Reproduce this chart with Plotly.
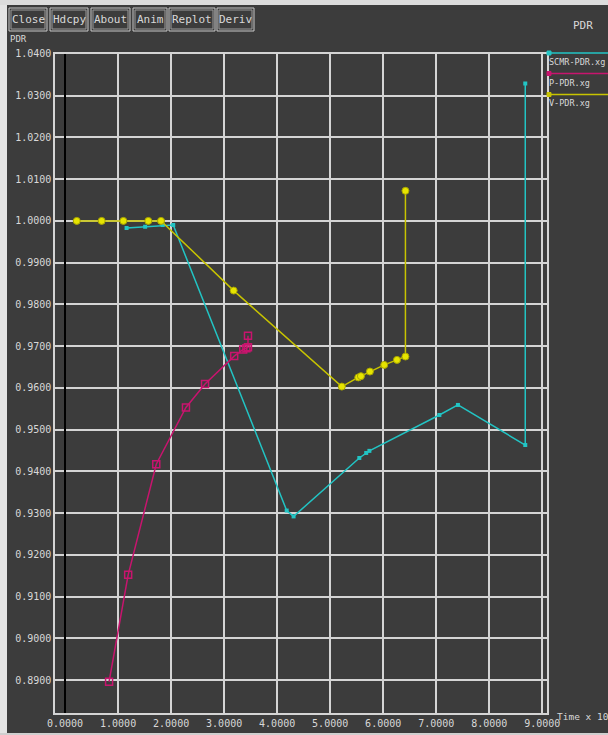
import plotly.graph_objects as go

# PDR versus time for three runs
scmr_x = [1.16, 1.51, 1.84, 2.04, 4.18, 4.31, 5.55, 5.68, 5.74, 7.06, 7.41, 8.68, 8.68]
scmr_y = [0.9983, 0.9986, 0.9990, 0.9990, 0.9306, 0.9292, 0.9432, 0.9444, 0.9449,
          0.9535, 0.9559, 0.9463, 1.0329]

p_x = [0.83, 1.19, 1.72, 2.28, 2.64, 3.19, 3.36, 3.42, 3.45, 3.45]
p_y = [0.8896, 0.9152, 0.9417, 0.9553, 0.9609, 0.9676, 0.9692, 0.9695, 0.9697, 0.9725]

v_x = [0.22, 0.69, 1.10, 1.57, 1.81, 3.18, 5.22, 5.53, 5.58, 5.75, 6.02, 6.26, 6.42, 6.42]
v_y = [1.0000, 1.0000, 1.0000, 1.0000, 1.0000, 0.9833, 0.9603, 0.9625, 0.9628, 0.9639,
       0.9655, 0.9667, 0.9675, 1.0072]

series_names = ["SCMR-PDR.xg", "P-PDR.xg", "V-PDR.xg"]
buttons = ["Close", "Hdcpy", "About", "Anim", "Replot", "Deriv"]

W, H = 608, 735
BG = "#3c3c3c"
FG = "#d8d8d8"
GRID = "#d4d4d4"
CYAN = "#22c4c4"
MAGENTA = "#c8146e"
YELLOW = "#c8c400"
MONO = "DejaVu Sans Mono, Liberation Mono, monospace"


def px(x):
    return x / W


def py(y):
    return 1 - y / H


fig = go.Figure()
fig.add_trace(go.Scatter(
    x=scmr_x, y=scmr_y, mode="lines+markers", name=series_names[0],
    line=dict(color=CYAN, width=1.5),
    marker=dict(symbol="square", size=4, color=CYAN),
))
fig.add_trace(go.Scatter(
    x=p_x, y=p_y, mode="lines+markers", name=series_names[1],
    line=dict(color=MAGENTA, width=1.5),
    marker=dict(symbol="square-open", size=7, color=MAGENTA, line=dict(width=1.5)),
))
fig.add_trace(go.Scatter(
    x=v_x, y=v_y, mode="lines+markers", name=series_names[2],
    line=dict(color=YELLOW, width=1.5),
    marker=dict(symbol="circle", size=7, color="#e6e400",
                line=dict(color="#a8a400", width=1)),
))

shapes = []
annotations = []

# window chrome: light strips on the edges
shapes.append(dict(type="rect", xref="paper", yref="paper", x0=0, x1=1, y0=py(5), y1=1,
                   fillcolor="#dcdcdc", line=dict(width=0), layer="below"))
shapes.append(dict(type="rect", xref="paper", yref="paper", x0=0, x1=px(7), y0=0, y1=py(5),
                   fillcolor="#e4e4e4", line=dict(width=0), layer="below"))
shapes.append(dict(type="rect", xref="paper", yref="paper", x0=0, x1=1, y0=0, y1=py(733),
                   fillcolor="#cfcfcf", line=dict(width=0), layer="below"))

# button row
btn_edges = [(9, 47), (50, 88), (91, 130), (133, 167), (169, 215), (217, 254)]
for label, (x0, x1) in zip(buttons, btn_edges):
    shapes.append(dict(type="rect", xref="paper", yref="paper",
                       x0=px(x0), x1=px(x1), y0=py(31), y1=py(8),
                       line=dict(color="#c8c8c8", width=1), fillcolor=BG))
    shapes.append(dict(type="rect", xref="paper", yref="paper",
                       x0=px(x0 + 2), x1=px(x1 - 2), y0=py(29), y1=py(10),
                       line=dict(color="#9a9a9a", width=1)))
    annotations.append(dict(text=label, xref="paper", yref="paper",
                            x=px((x0 + x1) / 2), y=py(19.5), showarrow=False,
                            xanchor="center", yanchor="middle",
                            font=dict(family=MONO, size=11, color=FG)))

# titles
annotations.append(dict(text="PDR", xref="paper", yref="paper", x=px(583), y=py(25),
                        showarrow=False, xanchor="center", yanchor="middle",
                        font=dict(family=MONO, size=11, color=FG)))
annotations.append(dict(text="PDR", xref="paper", yref="paper", x=px(8), y=py(32),
                        showarrow=False, xanchor="left", yanchor="top",
                        font=dict(family=MONO, size=9, color=FG)))
annotations.append(dict(text="Time x 10", xref="paper", yref="paper", x=px(555), y=py(716),
                        showarrow=False, xanchor="left", yanchor="middle",
                        font=dict(family=MONO, size=9.5, color=FG)))

# legend drawn at the right of the frame
legend_rows = [(53, 62, CYAN), (73.5, 83, MAGENTA), (94.5, 103, YELLOW)]
for name, (ly, ty, col) in zip(series_names, legend_rows):
    shapes.append(dict(type="line", xref="paper", yref="paper",
                       x0=px(549), x1=1, y0=py(ly), y1=py(ly),
                       line=dict(color=col, width=1.5)))
    shapes.append(dict(type="rect", xref="paper", yref="paper",
                       x0=px(547), x1=px(551), y0=py(ly + 2), y1=py(ly - 2),
                       line=dict(color=col, width=1), fillcolor=col))
    annotations.append(dict(text=name, xref="paper", yref="paper", x=px(548), y=py(ty),
                            showarrow=False, xanchor="left", yanchor="middle",
                            borderpad=0,
                            font=dict(family=MONO, size=8.5, color=FG)))

axis_common = dict(
    showgrid=True, gridcolor=GRID, gridwidth=1.5,
    showline=True, linecolor=GRID, linewidth=1.5, mirror=True,
    ticks="", tickfont=dict(family=MONO, size=10, color=FG),
    tickformat=".4f", automargin=False,
)

fig.update_layout(
    width=W, height=H,
    margin=dict(l=0, r=0, t=0, b=0),
    paper_bgcolor=BG, plot_bgcolor=BG,
    showlegend=False,
    xaxis=dict(range=[-0.19, 9.09], dtick=1, tick0=0,
               domain=[px(55), px(547)],
               zeroline=True, zerolinecolor="#000000", zerolinewidth=1.5,
               **axis_common),
    yaxis=dict(range=[0.8821, 1.0401], dtick=0.01, tick0=0.89,
               domain=[py(713), py(53.5)], zeroline=False,
               **axis_common),
    shapes=shapes,
    annotations=annotations,
)

fig.write_html("out.html")
